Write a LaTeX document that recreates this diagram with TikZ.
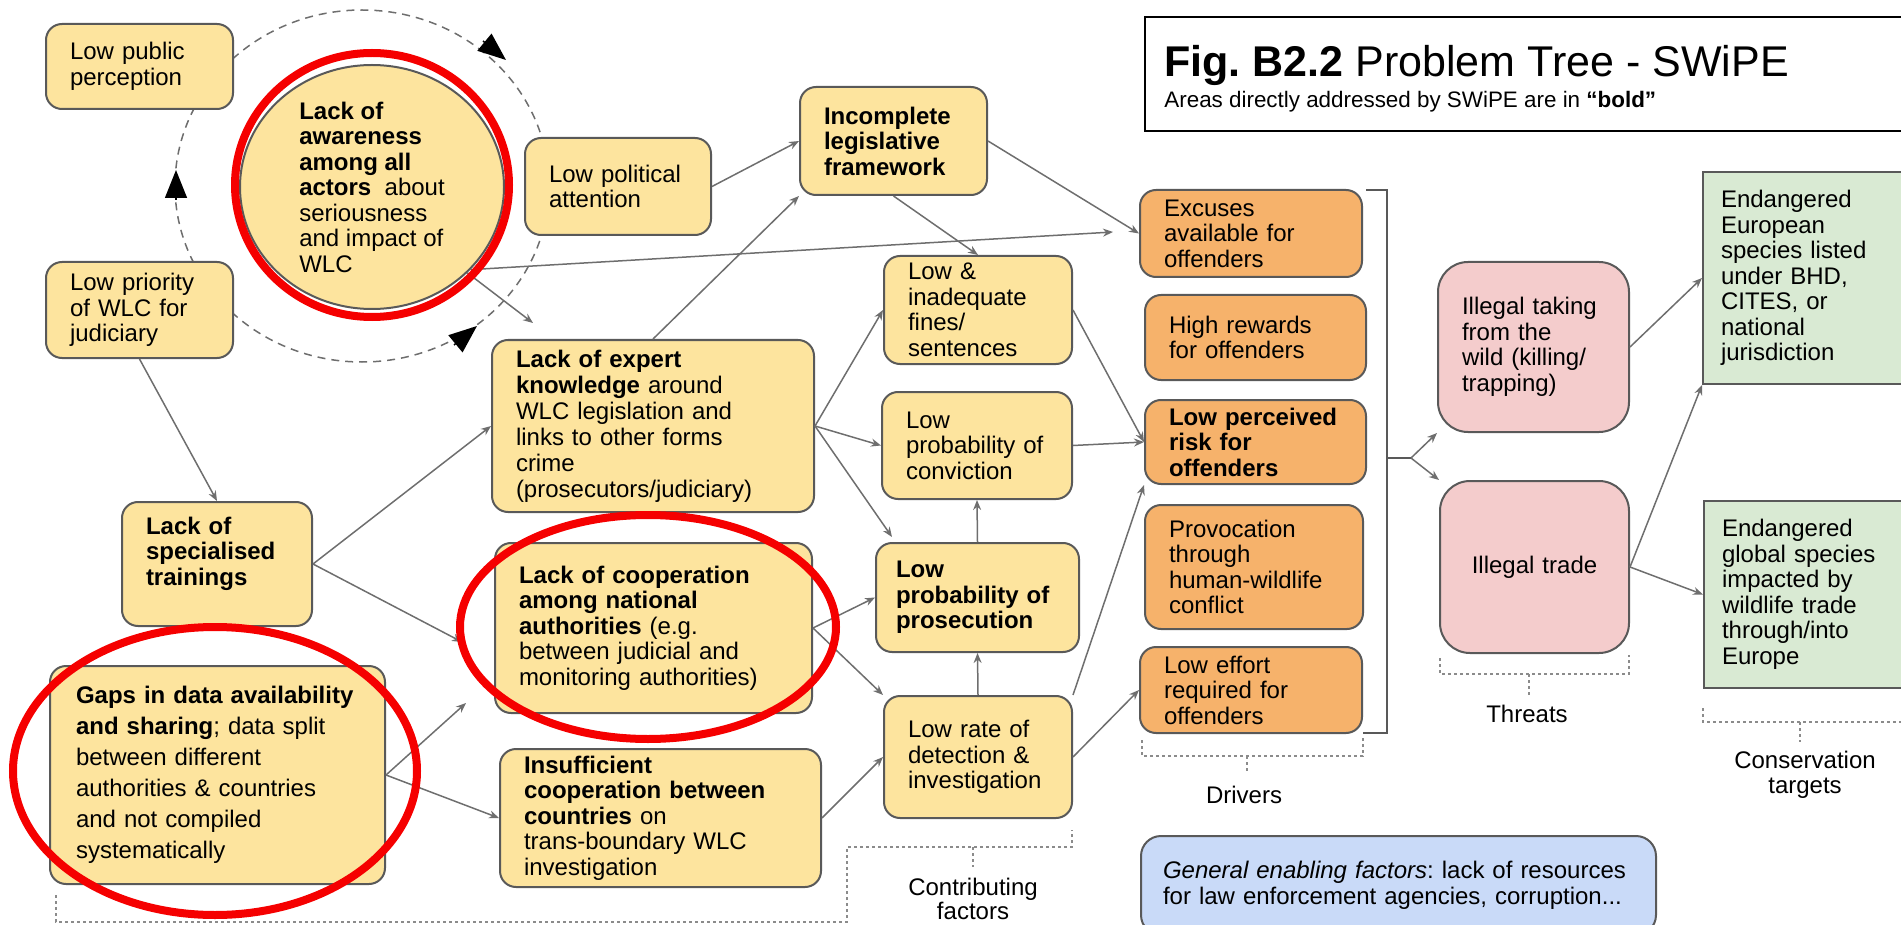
\documentclass[tikz,border=0pt]{standalone}
\usepackage{fontspec}
\setmainfont{Liberation Sans}
\usetikzlibrary{arrows.meta,shapes.geometric}
\definecolor{amarelo}{HTML}{FDE49E}
\definecolor{laranja}{HTML}{F6B26B}
\definecolor{rosa}{HTML}{F4CCCC}
\definecolor{verde}{HTML}{D9EAD3}
\definecolor{azul}{HTML}{C9DAF8}
\definecolor{borda}{HTML}{595959}
\definecolor{linha}{HTML}{6E6E6E}
\definecolor{vermelho}{HTML}{F50000}
\newlength{\px}
\setlength{\px}{0.5pt}
\frenchspacing

\begin{document}
\begin{tikzpicture}[x=0.5pt,y=-0.5pt,
		caixa/.style={draw=borda, line width=1pt, rounded corners=8pt, inner xsep=12pt, inner ysep=1pt, align=left, font=\fontsize{12}{12.75}\selectfont},
		amarela/.style={caixa, fill=amarelo},
		laranjada/.style={caixa, fill=laranja},
		rosada/.style={caixa, fill=rosa, rounded corners=15pt},
		verdinha/.style={caixa, fill=verde, rounded corners=0pt, inner xsep=9pt},
		azulada/.style={caixa, fill=azul, rounded corners=10pt, inner xsep=11pt},
		seta/.style={draw=linha, line width=0.75pt, -{Stealth[length=5pt,width=4pt]}},
		chave/.style={draw=borda, line width=0.75pt},
		pontos/.style={draw=linha!80, line width=0.75pt, dash pattern=on 1.5pt off 1.5pt},
		tracos/.style={draw=linha, line width=0.75pt, dash pattern=on 4pt off 3pt},
		ponta/.style={draw=black, line width=0.75pt, -{Triangle[length=14pt,width=11pt]}},
		rotulo/.style={align=center, inner sep=0pt, font=\fontsize{12}{12.75}\selectfont},
		destaque/.style={draw=vermelho, line width=4pt}]
		\useasboundingbox (0,0) rectangle (1901,925);
		
		% Ciclo tracejado
		\draw[tracos] (362,186) ellipse [x radius=187, y radius=176];
		\coordinate (c1a) at (483,41);  \coordinate (c1b) at (506,60);
		\coordinate (c2a) at (176,200); \coordinate (c2b) at (176,170);
		\coordinate (c3a) at (454,345); \coordinate (c3b) at (477,326);
		\draw[ponta] (c1a) -- (c1b);
		\draw[ponta] (c2a) -- (c2b);
		\draw[ponta] (c3a) -- (c3b);
		
		% Titulo
		\node[draw=black, line width=0.75pt, minimum width=765\px, minimum height=114\px, inner sep=0pt] (titulo) at (1527.5,74) {};
		\node[anchor=base west, inner sep=0pt, font=\fontsize{21.5}{21.5}\selectfont] (tit) at (1164,77) {\textbf{Fig. B2.2} Problem Tree - SWiPE};
		\node[anchor=base west, inner sep=0pt, font=\fontsize{11.2}{11.2}\selectfont] (subtit) at (1164,108) {Areas directly addressed by SWiPE are in \textbf{“bold”}};
		
		% Fatores contribuintes
		\node[amarela, text width=139\px, minimum height=85\px] (pub) at (139.5,66.5) {Low public\\perception};
		\node[amarela, text width=139\px, minimum height=96\px] (prio) at (139.5,310) {Low priority\\of WLC for\\judiciary};
		\node[ellipse, draw=borda, fill=amarelo, line width=1pt, inner sep=0pt, minimum width=264\px, minimum height=244\px, align=left, font=\fontsize{12}{12.75}\selectfont] (aware) at (372,187) {\textbf{Lack of}\\\textbf{awareness}\\\textbf{among all}\\\textbf{actors}\ \ about\\seriousness\\and impact of\\WLC};
		\node[amarela, text width=138\px, minimum height=97\px] (pol) at (618,186.5) {Low political\\attention};
		\node[amarela, text width=139\px, minimum height=108\px, font=\bfseries\fontsize{12}{12.75}\selectfont] (leg) at (893.5,141) {Incomplete\\legislative\\framework};
		\node[amarela, text width=140\px, minimum height=108\px] (fines) at (978,310) {Low \&\\inadequate\\fines/\\sentences};
		\node[amarela, text width=142\px, minimum height=107\px] (conv) at (977,445.5) {Low\\probability of\\conviction};
		\node[amarela, text width=274\px, minimum height=172\px, font=\fontsize{12}{13}\selectfont] (expert) at (653,426) {\textbf{Lack of expert}\\\textbf{knowledge} around\\WLC legislation and\\links to other forms\\crime\\(prosecutors/judiciary)};
		\node[amarela, text width=269\px, minimum height=170\px] (coop) at (653.5,628) {\textbf{Lack of cooperation}\\\textbf{among national}\\\textbf{authorities} (e.g.\\between judicial and\\monitoring authorities)};
		\node[amarela, inner xsep=10pt, text width=163\px, minimum height=109\px, font=\bfseries\fontsize{12}{12.75}\selectfont] (pros) at (977.5,597.5) {Low\\probability of\\prosecution};
		\node[amarela, text width=140\px, minimum height=122\px] (detect) at (978,757) {Low rate of\\detection \&\\investigation};
		\node[amarela, text width=273\px, minimum height=138\px] (insuf) at (660.5,818) {\textbf{Insufficient}\\\textbf{cooperation between}\\\textbf{countries} on\\trans-boundary WLC\\investigation};
		\node[amarela, text width=142\px, minimum height=124\px, font=\bfseries\fontsize{12}{12.75}\selectfont] (train) at (217,564) {Lack of\\specialised\\trainings\\\mbox{}};
		\node[amarela, inner xsep=13pt, text width=283\px, minimum height=218\px, font=\fontsize{12}{15.5}\selectfont] (gaps) at (217.5,775) {\textbf{Gaps in data availability}\\\textbf{and sharing}; data split\\between different\\authorities \& countries\\and not compiled\\systematically};
		
		% Motivadores
		\node[laranjada, text width=174\px, minimum height=87\px] (excuses) at (1251,233.5) {Excuses\\available for\\offenders};
		\node[laranjada, text width=173\px, minimum height=85\px] (rewards) at (1255.5,337.5) {High rewards\\for offenders};
		\node[laranjada, text width=173\px, minimum height=84\px, font=\bfseries\fontsize{12}{12.75}\selectfont] (risk) at (1255.5,442) {Low perceived\\risk for\\offenders};
		\node[laranjada, text width=170\px, minimum height=124\px] (provo) at (1254,567) {Provocation\\through\\human-wildlife\\conflict};
		\node[laranjada, text width=174\px, minimum height=86\px] (effort) at (1251,690) {Low effort\\required for\\offenders};
		
		% Ameacas e alvos
		\node[rosada, text width=143\px, minimum height=170\px] (taking) at (1533.5,347) {Illegal taking\\from the\\wild (killing/\\trapping)};
		\node[rosada, text width=141\px, minimum height=172\px, align=center] (trade) at (1534.5,567) {Illegal trade};
		\node[verdinha, text width=171\px, minimum height=212\px] (euro) at (1806.5,278) {Endangered\\European\\species listed\\under BHD,\\CITES, or\\national\\jurisdiction};
		\node[verdinha, text width=170\px, minimum height=187\px] (glob) at (1807,594.5) {Endangered\\global species\\impacted by\\wildlife trade\\through/into\\Europe};
		\node[azulada, text width=471\px, minimum height=99\px] (enabling) at (1398.5,885.5) {\textit{General enabling factors}: lack of resources\\for law enforcement agencies, corruption...};
		
		% Setas
		\coordinate (excIn) at (1113,232);
		\coordinate (awEnd) at (533,323);
		\coordinate (coopIn1) at (462,642);
		\coordinate (coopIn2) at (466,703);
		\coordinate (prosIn) at (892,537);
		\coordinate (split) at (1411,458);
		\draw[seta] (pol.east) -- (leg.west);
		\draw[seta] (leg.east) -- (excuses.west);
		\draw[seta] (leg.south) -- (fines.north);
		\draw[seta] (aware.-40) -- (excIn);
		\draw[seta] (aware.-42) -- (awEnd);
		\draw[seta] (prio.south) -- (train.north);
		\draw[seta] (train.east) -- (expert.west);
		\draw[seta] (train.east) -- (coopIn1);
		\draw[seta] (gaps.east) -- (coopIn2);
		\draw[seta] (gaps.east) -- (insuf.west);
		\draw[seta] (expert.north) -- (leg.south west);
		\draw[seta] (expert.east) -- (fines.west);
		\draw[seta] (expert.east) -- (conv.west);
		\draw[seta] (expert.east) -- (prosIn);
		\draw[seta] (coop.east) -- (pros.west);
		\draw[seta] (coop.east) -- (detect.north west);
		\draw[seta] (insuf.east) -- (detect.west);
		\draw[seta] (detect.north) -- (pros.south);
		\draw[seta] (pros.north) -- (conv.south);
		\draw[seta] (fines.east) -- (risk.west);
		\draw[seta] (conv.east) -- (risk.west);
		\draw[seta] (detect.north east) -- (risk.south west);
		\draw[seta] (detect.east) -- (effort.west);
		\draw[seta] (split) -- (taking.south west);
		\draw[seta] (split) -- (trade.north west);
		\draw[seta] (taking.east) -- (euro.west);
		\draw[seta] (trade.east) -- (euro.south west);
		\draw[seta] (trade.east) -- (glob.west);
		
		% Chave dos motivadores
		\draw[chave] (1366,190) -- (1387,190) -- (1387,733) -- (1363,733);
		\draw[chave] (1387,458) -- (split);
		
		% Grupos pontilhados
		\draw[pontos] (56,895) -- (56,922) -- (847,922) -- (847,847) -- (1072,847) -- (1072,830);
		\draw[pontos] (973,847) -- (973,867);
		\draw[pontos] (1142,740) -- (1142,756) -- (1363,756) -- (1363,736);
		\draw[pontos] (1247,756) -- (1247,773);
		\draw[pontos] (1440,658) -- (1440,674) -- (1629,674) -- (1629,655);
		\draw[pontos] (1529,674) -- (1529,695);
		\draw[pontos] (1703,708) -- (1703,722) -- (1910,722);
		\draw[pontos] (1800,722) -- (1800,742);
		\node[rotulo, font=\fontsize{12}{11}\selectfont] (contrib) at (973,899) {Contributing\\factors};
		\node[rotulo] (drivers) at (1244,795) {Drivers};
		\node[rotulo] (threats) at (1527,714) {Threats};
		\node[rotulo] (conserv) at (1805,775) {Conservation\\targets};
		
		% Destaques em vermelho
		\draw[destaque] (372,185) ellipse [x radius=137, y radius=132];
		\draw[destaque] (648,627) ellipse [x radius=188, y radius=112];
		\draw[destaque] (215,771) ellipse [x radius=202, y radius=144];
	\end{tikzpicture}
\end{document}
